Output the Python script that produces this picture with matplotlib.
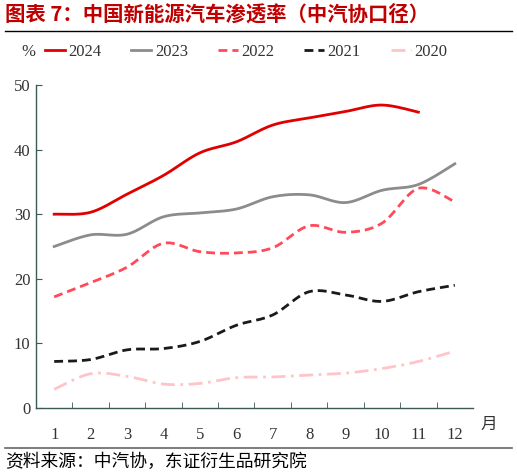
import matplotlib.pyplot as plt
import numpy as np
from matplotlib.lines import Line2D

plt.rcParams['font.family'] = ['Liberation Serif', 'Noto Sans CJK SC']

months = list(range(1, 13))
month_labels = [str(m) for m in months]
y2024 = [30.0, 30.3, 33.1, 36.0, 39.5, 41.2, 43.8, 44.9, 45.9, 46.9, 45.8]
y2023 = [25.0, 26.8, 26.9, 29.6, 30.2, 30.8, 32.7, 33.0, 31.8, 33.7, 34.6, 37.8]
y2022 = [17.2, 19.4, 21.8, 25.5, 24.2, 24.0, 24.8, 28.2, 27.2, 28.6, 34.0, 31.9]
y2021 = [7.2, 7.5, 9.0, 9.2, 10.3, 12.8, 14.4, 18.0, 17.5, 16.5, 18.0, 19.0]
y2020 = [2.9, 5.3, 4.9, 3.7, 3.8, 4.7, 4.8, 5.1, 5.4, 6.1, 7.2, 8.8]


def smooth(x, y, n=30):
    # Catmull-Rom style curve through the points (like Excel smoothed lines)
    x = np.asarray(x, float)
    y = np.asarray(y, float)
    px = np.concatenate([[x[0]], x, [x[-1]]])
    py = np.concatenate([[y[0]], y, [y[-1]]])
    xs, ys = [], []
    t = np.linspace(0, 1, n)
    for i in range(1, len(px) - 2):
        p0, p1, p2, p3 = (np.array([px[j], py[j]]) for j in range(i - 1, i + 3))
        c1 = p1 + (p2 - p0) / 6
        c2 = p2 - (p3 - p1) / 6
        b = ((1 - t) ** 3)[:, None] * p1 + (3 * (1 - t) ** 2 * t)[:, None] * c1 \
            + (3 * (1 - t) * t ** 2)[:, None] * c2 + (t ** 3)[:, None] * p2
        xs.extend(b[:, 0])
        ys.extend(b[:, 1])
    return np.array(xs), np.array(ys)


series = [
    ('2024', y2024, '#E00000', '-', 2.0),
    ('2023', y2023, '#8C8C8C', '-', 2.0),
    ('2022', y2022, '#FF4A5A', (0, (3.2, 1.8)), 2.0),
    ('2021', y2021, '#1A1A1A', (0, (3.2, 1.8)), 2.0),
    ('2020', y2020, '#FFC4C8', (0, (5, 2, 1, 2)), 2.0),
]

fig = plt.figure(figsize=(5.17, 4.76), dpi=100)
ax = fig.add_axes([0.0696, 0.1429, 0.8453, 0.6785])

handles = []
for name, vals, col, ls, lw in series:
    sx, sy = smooth(months[:len(vals)], vals)
    ax.plot(sx, sy, color=col, linestyle=ls, linewidth=lw)
    handles.append(Line2D([], [], color=col, linestyle=ls, linewidth=lw, label=name))

ax.set_xlim(0.5, 12.5)
ax.set_ylim(0, 50)
ax.set_yticks([0, 10, 20, 30, 40, 50])
ax.set_xticks(months)
ax.set_xticklabels(month_labels)
ax.set_xticks(np.arange(1.5, 12, 1), minor=True)
axis_col = '#3B5A55'
for s in ['top', 'right']:
    ax.spines[s].set_visible(False)
for s in ['left', 'bottom']:
    ax.spines[s].set_color(axis_col)
    ax.spines[s].set_linewidth(1.0)
ax.tick_params(axis='x', which='major', length=0, pad=14, labelsize=12, labelcolor='#333333')
ax.tick_params(axis='x', which='minor', direction='in', length=4, color=axis_col)
ax.tick_params(axis='y', direction='in', length=4, color=axis_col, labelsize=12, labelcolor='#333333', pad=4)

fig.legend(handles=handles, loc='center left', bbox_to_anchor=(0.087, 0.891), ncol=5,
           frameon=False, fontsize=12, handlelength=1.2, handletextpad=0.2,
           columnspacing=1.8, labelcolor='#333333', borderpad=0, borderaxespad=0)
fig.text(0.054, 0.891, '%', fontsize=12, color='#333333', va='center', ha='center')

fig.text(0.01, 0.968, '图表 7：中国新能源汽车渗透率（中汽协口径）', fontsize=14.7,
         fontweight='bold', color='#C00000', va='center', ha='left',
         family=['Noto Sans CJK SC', 'DejaVu Sans'])
fig.add_artist(Line2D([0.01, 0.99], [0.935, 0.935], color='black', linewidth=1.0))
fig.add_artist(Line2D([0.01, 0.99], [0.059, 0.059], color='#666666', linewidth=1.2))
fig.text(0.01, 0.029, '资料来源：中汽协，东证衍生品研究院', fontsize=12.8, color='black',
         va='center', ha='left', family=['Noto Sans CJK SC', 'DejaVu Sans'])
fig.text(0.946, 0.108, '月', fontsize=12, color='#333333', va='center', ha='center',
         family=['Noto Sans CJK SC', 'DejaVu Sans'])

fig.savefig('out.png', dpi=100)
